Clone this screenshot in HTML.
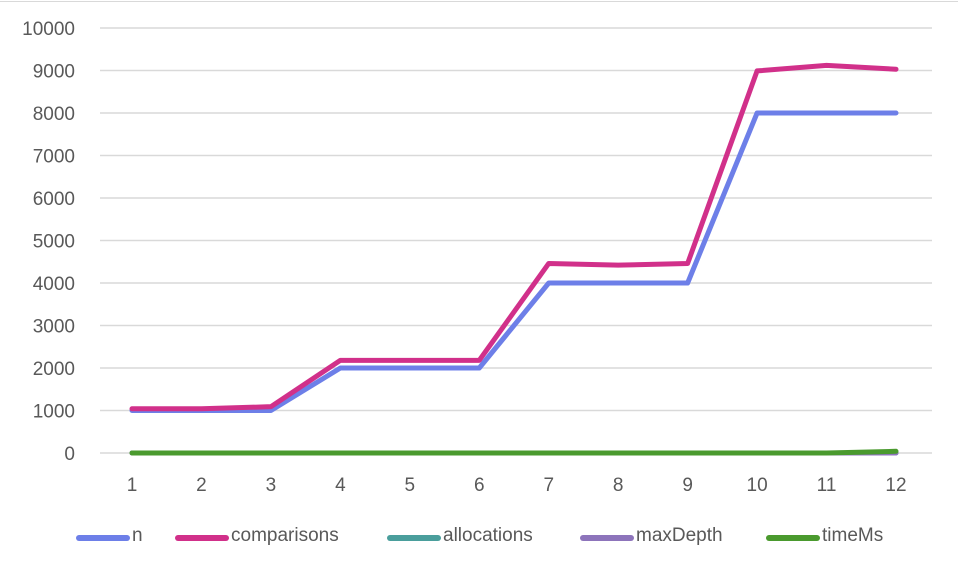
<!DOCTYPE html>
<html><head><meta charset="utf-8"><style>
body{margin:0;background:#fff;}
svg{display:block;font-family:"Liberation Sans",sans-serif;}
</style></head><body>
<svg id="c" width="958" height="572">
<line x1="0" y1="1.5" x2="958" y2="1.5" stroke="#d9d9d9" stroke-width="1"/>
<g id="grid"></g><g id="series"></g><g id="legend"></g>
</svg>
<script>
const categories=["1","2","3","4","5","6","7","8","9","10","11","12"];
const yTicks=[0,1000,2000,3000,4000,5000,6000,7000,8000,9000,10000];
const nVals=[1000,1000,1000,2000,2000,2000,4000,4000,4000,8000,8000,8000];
const compVals=[1040,1040,1090,2180,2180,2180,4460,4420,4460,8990,9120,9030];
const allocVals=[0,0,0,0,0,0,0,0,0,0,0,0];
const depthVals=[0,0,0,0,0,0,0,0,0,0,0,0];
const timeVals=[0,0,0,0,0,0,0,0,0,0,0,40];
const seriesNames=["n","comparisons","allocations","maxDepth","timeMs"];
const seriesColors=["#6d7fe8","#d1308a","#4a9e9c","#8d74bb","#4a9a2e"];
const seriesData=[nVals,compVals,allocVals,depthVals,timeVals];
const NS="http://www.w3.org/2000/svg";
const x=i=>132+i*(896-132)/11;
const y=v=>453-v*(453-28)/10000;
function mk(t,a,p){const e=document.createElementNS(NS,t);for(const k in a)e.setAttribute(k,a[k]);p.appendChild(e);return e;}
const grid=document.getElementById('grid');
yTicks.forEach(v=>{
 const l=mk('line',{x1:100,x2:932,y1:y(v),y2:y(v),stroke:'#d9d9d9','stroke-width':1.5},grid);
 
 
 const t=mk('text',{x:75,y:y(v)+7,'text-anchor':'end','font-size':19,fill:'#595959'},grid);
 t.textContent=v;
 
 
});
categories.forEach((c,i)=>{
 const t=mk('text',{x:x(i),y:491,'text-anchor':'middle','font-size':19,fill:'#595959'},grid);
 t.textContent=c;
 
 
});
const sg=document.getElementById('series');
[2,3,4,0,1].forEach(s=>{
 const p=mk('polyline',{points:seriesData[s].map((v,i)=>x(i)+','+y(v)).join(' '),fill:'none',stroke:seriesColors[s],'stroke-width':5,'stroke-linejoin':'round','stroke-linecap':'round'},sg);
 
 
});
const lg=document.getElementById('legend');
const lx=[76,175,387,580,766];
seriesNames.forEach((n,s)=>{
 const g=mk('g',{},lg);
 
 
 mk('line',{x1:lx[s]+3,x2:lx[s]+51,y1:538,y2:538,stroke:seriesColors[s],'stroke-width':6,'stroke-linecap':'round'},g);
 const t=mk('text',{x:lx[s]+56,y:541,'font-size':19,fill:'#595959'},g);
 t.textContent=n;
});
</script>
</body></html>
